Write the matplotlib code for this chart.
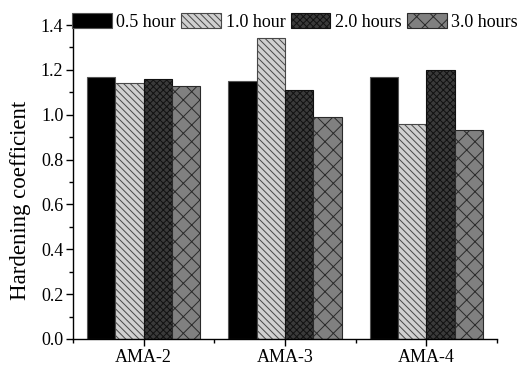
import matplotlib
matplotlib.use("Agg")
import matplotlib.pyplot as plt
import numpy as np
from matplotlib.ticker import MultipleLocator

categories = ["AMA-2", "AMA-3", "AMA-4"]
series_names = ["0.5 hour", "1.0 hour", "2.0 hours", "3.0 hours"]
v05 = [1.17, 1.15, 1.17]
v10 = [1.14, 1.34, 0.96]
v20 = [1.16, 1.11, 1.20]
v30 = [1.13, 0.99, 0.93]

plt.rcParams['font.family'] = ['Liberation Serif', 'DejaVu Serif']
plt.rcParams['hatch.linewidth'] = 0.7

fig = plt.figure(figsize=(5.22, 3.68), dpi=100)
ax = fig.add_axes([0.14, 0.079, 0.812, 0.853])

styles = [
    dict(facecolor='black', edgecolor='#555555', hatch=None),
    dict(facecolor='#d0d0d0', edgecolor='#484848', hatch='\\\\\\\\\\'),
    dict(facecolor='#3a3a3a', edgecolor='#111111', hatch='xxxxx'),
    dict(facecolor='#808080', edgecolor='#2a2a2a', hatch='xx'),
]
x = np.arange(1, len(categories) + 1)
w = 0.2
for i, (vals, name, st) in enumerate(zip([v05, v10, v20, v30], series_names, styles)):
    ax.bar(x + (i - 1.5) * w, vals, width=w, label=name, linewidth=0.8, **st)

ax.set_xlim(0.5, 3.5)
ax.set_ylim(0, 1.4)
ax.set_xticks(x)
ax.set_xticklabels(categories)
ax.xaxis.set_minor_locator(MultipleLocator(1.0, offset=0.5))
ax.yaxis.set_major_locator(MultipleLocator(0.2))
ax.yaxis.set_minor_locator(MultipleLocator(0.1))
ax.yaxis.set_major_formatter(matplotlib.ticker.FormatStrFormatter('%.1f'))
for s in ['top', 'right']:
    ax.spines[s].set_visible(False)
for s in ['left', 'bottom']:
    ax.spines[s].set_linewidth(1.0)
ax.tick_params(which='major', direction='out', length=5, width=1.0, labelsize=13, pad=2)
ax.tick_params(which='minor', direction='out', length=3, width=1.0)
ax.set_ylabel("Hardening coefficient", fontsize=16.5)
ax.yaxis.set_label_coords(-0.10, 0.44)

leg = fig.legend(loc='center left', bbox_to_anchor=(0.138, 0.941), ncol=4, frameon=False,
                 fontsize=13, handlelength=2.2, handleheight=0.95, handletextpad=0.25,
                 columnspacing=0.3, borderaxespad=0, borderpad=0)

fig.savefig("out.png", dpi=100)
